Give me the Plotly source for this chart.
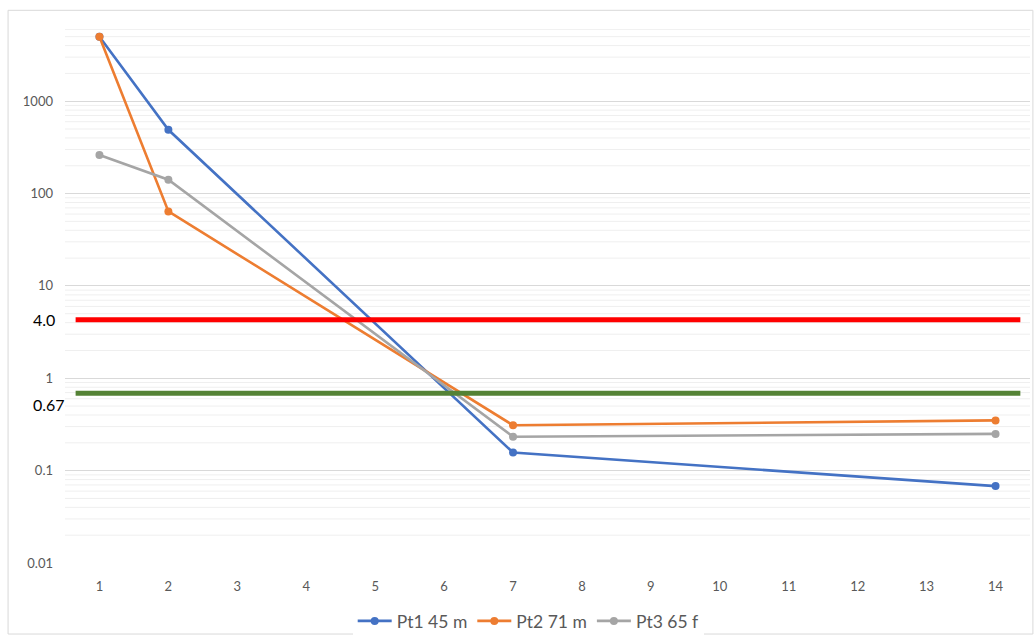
import plotly.graph_objects as go
import numpy as np

categories = list(range(1, 15))
tick_labels = [str(c) for c in categories]

series_names = ["Pt1 45 m", "Pt2 71 m", "Pt3 65 f"]
series_colors = ["#4472C4", "#ED7D31", "#A5A5A5"]
# values per category (None = no measurement; line connects across gaps)
pt1 = [5000, 490, None, None, None, None, 0.157, None, None, None, None, None, None, 0.068]
pt2 = [5000, 64, None, None, None, None, 0.31, None, None, None, None, None, None, 0.35]
pt3 = [262, 141, None, None, None, None, 0.233, None, None, None, None, None, None, 0.25]
series_values = [pt1, pt2, pt3]

threshold_values = [4.3, 0.69]
threshold_labels = ["4.0", "0.67"]
threshold_colors = ["#FF0000", "#548235"]

fig = go.Figure()

for name, color, vals in zip(series_names, series_colors, series_values):
    xs = [c for c, v in zip(categories, vals) if v is not None]
    ys = [v for v in vals if v is not None]
    fig.add_trace(go.Scatter(
        x=xs, y=ys, name=name, mode="lines+markers",
        line=dict(color=color, width=2.6),
        marker=dict(color=color, size=8),
    ))

# minor gridlines
minor_vals = []
for d in range(-2, 4):
    for m in range(2, 10):
        v = m * 10 ** d
        if v <= 6100:
            minor_vals.append(v)

shapes = []
for v in minor_vals:
    shapes.append(dict(type="line", xref="paper", x0=0, x1=1, yref="y", y0=v, y1=v,
                       line=dict(color="#EFEFEF", width=1), layer="below"))

# border of chart area
shapes.append(dict(type="rect", xref="paper", yref="paper",
                   x0=-0.059, x1=1.003, y0=-0.133, y1=1.035,
                   line=dict(color="#D9D9D9", width=1), layer="below"))

annotations = []
for v, lab, col in zip(threshold_values, threshold_labels, threshold_colors):
    shapes.append(dict(type="line", xref="paper", x0=0.011, x1=0.99, yref="y", y0=v, y1=v,
                       line=dict(color=col, width=5)))
    annotations.append(dict(x=-0.035, xref="paper", y=np.log10(v), yref="y",
                            text=lab, showarrow=False, xanchor="left",
                            yanchor="middle" if lab == "4.0" else "top",
                            font=dict(family="Lato, Carlito, sans-serif", size=16, color="#000000")))

fig.update_layout(
    width=1034, height=643,
    margin=dict(l=65, r=4, t=29, b=73),
    paper_bgcolor="white", plot_bgcolor="white",
    font=dict(family="Lato, Carlito, sans-serif", color="#595959", size=13),
    shapes=shapes, annotations=annotations,
    legend=dict(orientation="h", x=0.48, xanchor="center", y=-0.075, yanchor="top",
                font=dict(size=17.5, color="#595959"), itemwidth=34,
                traceorder="normal"),
    showlegend=True,
)
fig.update_xaxes(
    range=[0.5, 14.5], tickmode="array", tickvals=categories, ticktext=tick_labels,
    showgrid=False, zeroline=False, showline=False, ticks="", automargin=False,
    ticklabelstandoff=14,
    tickfont=dict(size=13, color="#595959"),
)
fig.update_yaxes(
    type="log", range=[-2, np.log10(6050)],
    tickmode="array", tickvals=[0.01, 0.1, 1, 10, 100, 1000],
    ticktext=["0.01", "0.1", "1", "10", "100", "1000"],
    showgrid=True, gridcolor="#D9D9D9", gridwidth=1, zeroline=False,
    showline=False, ticks="", ticklabelstandoff=11, automargin=False,
    tickfont=dict(size=13, color="#595959"),
)

fig.write_html("out.html", config={"displayModeBar": False},
               post_script="document.body.style.margin='0px';")
